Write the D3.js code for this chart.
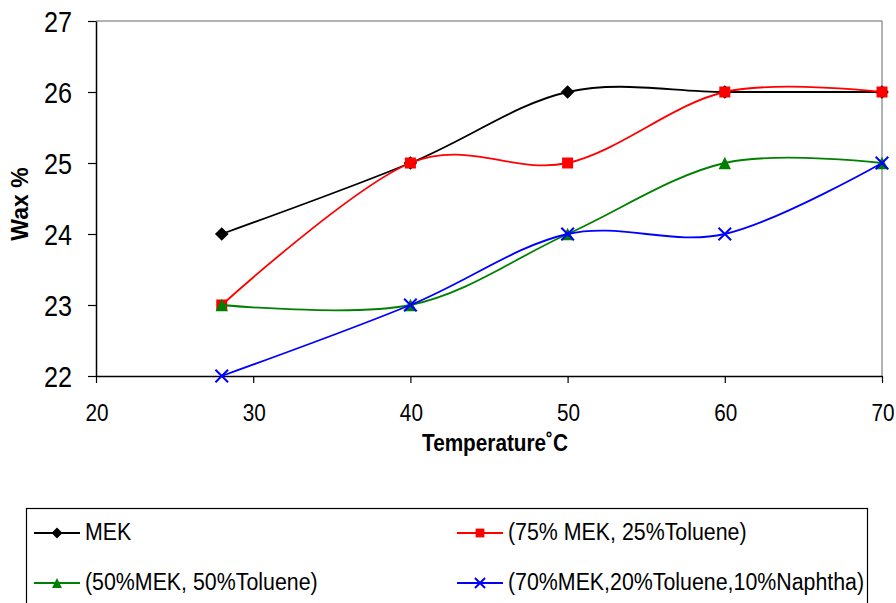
<!DOCTYPE html>
<html>
<head>
<meta charset="utf-8">
<script src="https://cdn.jsdelivr.net/npm/d3@7"></script>
<style>
  html, body { margin: 0; padding: 0; background: #fff; }
  svg { display: block; font-family: "Liberation Sans", Arial, sans-serif; }
</style>
</head>
<body>
<svg id="chart" width="896" height="603"></svg>
<script>
// ---- data ----
const temperatures = [28, 40, 50, 60, 70];
const seriesNames = ["MEK", "(75% MEK, 25%Toluene)", "(50%MEK, 50%Toluene)", "(70%MEK,20%Toluene,10%Naphtha)"];
const mekValues = [24, 25, 26, 26, 26];
const mek75Values = [23, 25, 25, 26, 26];
const mek50Values = [23, 23, 24, 25, 25];
const naphthaValues = [22, 23, 24, 24, 25];
const xTicks = [20, 30, 40, 50, 60, 70];
const yTicks = [22, 23, 24, 25, 26, 27];
const xTitle = "Temperature˚C";
const yTitle = "Wax %";

const series = [
  { name: seriesNames[0], values: mekValues, color: "#000000", marker: "diamond" },
  { name: seriesNames[1], values: mek75Values, color: "#ff0000", marker: "square" },
  { name: seriesNames[2], values: mek50Values, color: "#008000", marker: "triangle" },
  { name: seriesNames[3], values: naphthaValues, color: "#0000ff", marker: "cross" }
];

// ---- layout ----
const K = 0.84;  // horizontal text compression for tick labels
const KL = 0.865; // for legend and title
const svg = d3.select("#chart");
const x = d3.scaleLinear().domain([20, 70]).range([96, 882]);
const y = d3.scaleLinear().domain([22, 27]).range([376, 21]);

// plot border (top and right)
svg.append("path")
  .attr("d", `M${x(20)},${y(27)}H${x(70)}V${y(22)}`)
  .attr("fill", "none").attr("stroke", "#666").attr("stroke-width", 1);

// axes
const yAxis = svg.append("g").attr("transform", `translate(${x(20)},0)`)
  .call(d3.axisLeft(y).tickValues(yTicks).tickSize(8).tickSizeOuter(0).tickFormat(d3.format("d")));
const xAxis = svg.append("g").attr("transform", `translate(0,${y(22)})`)
  .call(d3.axisBottom(x).tickValues(xTicks).tickSize(7).tickSizeOuter(0).tickFormat(d3.format("d")));

[yAxis, xAxis].forEach(g => {
  g.select(".domain").attr("stroke", "#000").attr("stroke-width", 1.5);
  g.selectAll(".tick line").attr("stroke", "#000").attr("stroke-width", 1.2);
});
yAxis.selectAll(".tick text")
  .attr("x", 0).attr("dy", "0.34em")
  .attr("font-size", 30).attr("fill", "#000")
  .attr("transform", `translate(-24,0) scale(${K},1)`);
xAxis.selectAll(".tick text")
  .attr("y", 0).attr("dy", 0)
  .attr("font-size", 24.7).attr("fill", "#000")
  .attr("transform", `translate(0.5,44.7) scale(${K},1)`);

// axis titles
svg.append("text")
  .attr("transform", `translate(495,450.5) scale(${KL},1)`)
  .attr("text-anchor", "middle").attr("font-size", 24).attr("font-weight", "bold")
  .text(xTitle);
svg.append("text")
  .attr("transform", `translate(28,204) rotate(-90)`)
  .attr("text-anchor", "middle").attr("font-size", 23).attr("font-weight", "bold")
  .text(yTitle);

// markers
function markerPath(type, s) {
  switch (type) {
    case "diamond": return `M0,${-s}L${s},0L0,${s}L${-s},0Z`;
    case "square": return `M${-s},${-s}H${s}V${s}H${-s}Z`;
    case "triangle": return `M0,${-s}L${s},${s}H${-s}Z`;
    case "cross": return `M${-s},${-s}L${s},${s}M${s},${-s}L${-s},${s}`;
  }
}
const markerSize = { diamond: 6.8, square: 5.5, triangle: 6.2, cross: 6.3 };
function drawMarker(g, type, color, cx, cy, scale) {
  const s = markerSize[type] * scale;
  const p = g.append("path").attr("d", markerPath(type, s)).attr("transform", `translate(${cx},${cy})`);
  if (type === "cross") p.attr("fill", "none").attr("stroke", color).attr("stroke-width", 2);
  else p.attr("fill", color).attr("stroke", "none");
}

const line = d3.line()
  .x((d, i) => x(temperatures[i]))
  .y(d => y(d))
  .curve(d3.curveCardinal.tension(0));

series.forEach(s => {
  const g = svg.append("g");
  g.append("path").attr("d", line(s.values))
    .attr("fill", "none").attr("stroke", s.color).attr("stroke-width", 1.8);
  s.values.forEach((v, i) => drawMarker(g, s.marker, s.color, x(temperatures[i]), y(v), 1));
});

// legend
svg.append("rect").attr("x", 26.5).attr("y", 508.5).attr("width", 841).attr("height", 120)
  .attr("fill", "none").attr("stroke", "#000").attr("stroke-width", 1.2);
const legendCols = [{ lx: 34, tx: 85 }, { lx: 457, tx: 508 }];
const legendRows = [533, 583];
series.forEach((s, i) => {
  const col = legendCols[i % 2], ry = legendRows[Math.floor(i / 2)];
  const g = svg.append("g");
  g.append("line").attr("x1", col.lx).attr("x2", col.lx + 46).attr("y1", ry).attr("y2", ry)
    .attr("stroke", s.color).attr("stroke-width", 1.8);
  drawMarker(g, s.marker, s.color, col.lx + 23, ry, 0.8);
  g.append("text")
    .attr("transform", `translate(${col.tx},${ry + 6.5}) scale(${KL},1)`)
    .attr("font-size", 24.7).attr("fill", "#000")
    .text(s.name);
});
</script>
</body>
</html>
